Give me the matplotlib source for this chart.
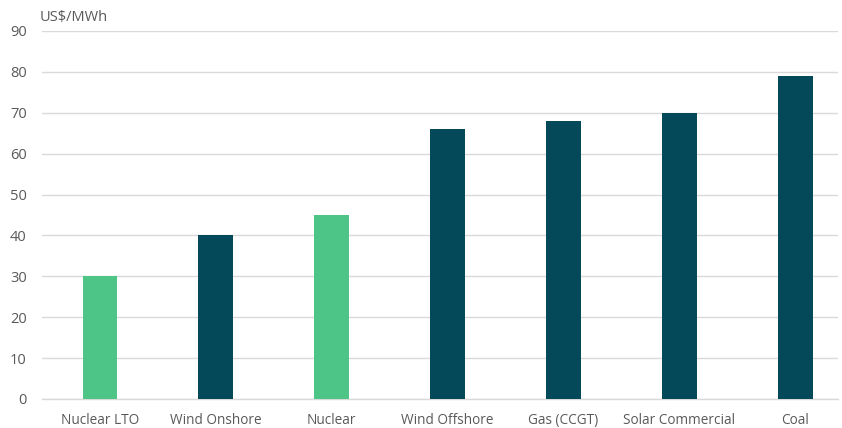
import matplotlib
matplotlib.use("Agg")
import matplotlib.pyplot as plt

# Levelised cost of electricity by technology
categories = ["Nuclear LTO", "Wind Onshore", "Nuclear", "Wind Offshore",
              "Gas (CCGT)", "Solar Commercial", "Coal"]
costs = [30, 40, 45, 66, 68, 70, 79]
is_nuclear = [True, False, True, False, False, False, False]

green = "#4DC586"
teal = "#03495A"
text_color = "#595959"
grid_color = "#D9D9D9"

plt.rcParams["font.family"] = ["Open Sans", "DejaVu Sans"]

fig = plt.figure(figsize=(8.42, 4.28), dpi=100)
ax = fig.add_axes([42 / 842, 1 - 399 / 428, (838 - 42) / 842, (399 - 31) / 428])

x = list(range(len(categories)))
colors = [green if n else teal for n in is_nuclear]
ax.bar(x, costs, width=0.30, color=colors, zorder=3)

ax.set_ylim(0, 90)
ax.set_xlim(-0.5, 6.37)
ax.set_yticks(range(0, 91, 10))
ax.set_xticks(x)
ax.set_xticklabels(categories)
ax.yaxis.grid(True, color=grid_color, linewidth=1.0, zorder=0)
ax.set_axisbelow(True)

for s in ["top", "right", "left"]:
    ax.spines[s].set_visible(False)
ax.spines["bottom"].set_color(grid_color)
ax.spines["bottom"].set_linewidth(1.0)

ax.tick_params(axis="both", length=0, colors=text_color)
ax.tick_params(axis="y", pad=11, labelsize=10.5)
ax.tick_params(axis="x", pad=10, labelsize=9.8)

fig.text(40 / 842, 1 - 17 / 428, "US$/MWh", color=text_color, fontsize=10.5,
         ha="left", va="center")

fig.savefig("out.png", dpi=100)
